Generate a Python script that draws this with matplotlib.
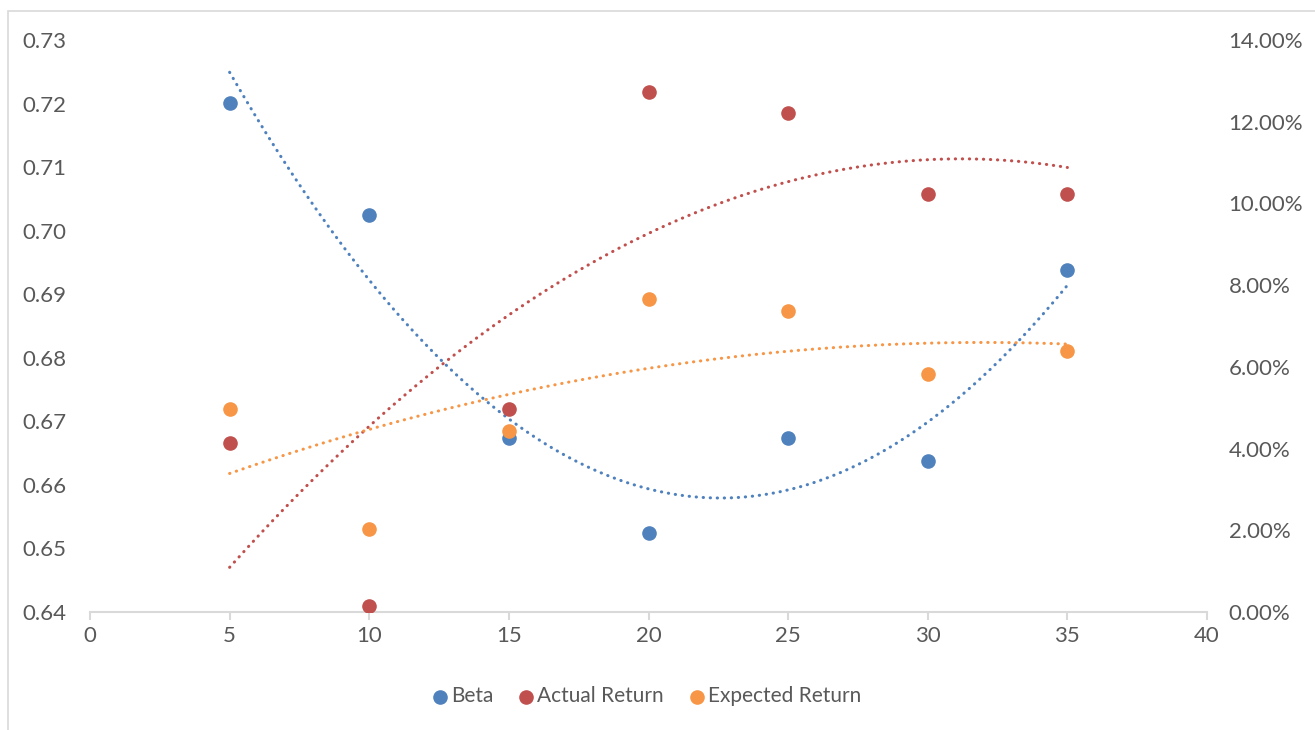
import numpy as np
import matplotlib
matplotlib.use("Agg")
import matplotlib.pyplot as plt
from matplotlib.patches import Rectangle
from matplotlib.ticker import FuncFormatter, MultipleLocator

plt.rcParams['font.family'] = ['Lato', 'DejaVu Sans']

# data
periods = [5, 10, 15, 20, 25, 30, 35]
beta = [0.7201, 0.7025, 0.6674, 0.6525, 0.6673, 0.6638, 0.6938]
actual_return = [0.0414, 0.0015, 0.0497, 0.1273, 0.1221, 0.1023, 0.1023]
expected_return = [0.0497, 0.0203, 0.0443, 0.0766, 0.0737, 0.0582, 0.0639]

c_beta = "#4F81BD"
c_actual = "#C0504D"
c_expected = "#F79646"
grey = "#595959"
axis_grey = "#D9D9D9"

fig = plt.figure(figsize=(13.15, 7.3), dpi=100)
fig.patches.append(Rectangle((8 / 1315, -0.01), 1.02, 1 - 11 / 730 + 0.01,
                             transform=fig.transFigure, fill=False,
                             edgecolor=axis_grey, linewidth=1.2))

ax = fig.add_axes([90 / 1315, 118 / 730, 1117 / 1315, 572 / 730])
ax2 = ax.twinx()


def trend(axis, xs, ys, color):
    coef = np.polyfit(xs, ys, 2)
    xx = np.linspace(min(xs), max(xs), 200)
    axis.plot(xx, np.polyval(coef, xx), color=color, lw=2.2,
              linestyle=(0, (0.1, 2.2)), dash_capstyle='round', zorder=2)


ax.scatter(periods, beta, s=90, color=c_beta, zorder=3, label="Beta")
trend(ax, periods, beta, c_beta)
ax2.scatter(periods, actual_return, s=90, color=c_actual, zorder=3, label="Actual Return")
ax2.scatter(periods, expected_return, s=90, color=c_expected, zorder=3, label="Expected Return")
trend(ax2, periods, actual_return, c_actual)
trend(ax2, periods, expected_return, c_expected)

ax.set_xlim(0, 40)
ax.set_ylim(0.64, 0.73)
ax2.set_ylim(0, 0.14)
ax.xaxis.set_major_locator(MultipleLocator(5))
ax.yaxis.set_major_locator(MultipleLocator(0.01))
ax2.yaxis.set_major_locator(MultipleLocator(0.02))
ax.yaxis.set_major_formatter(FuncFormatter(lambda v, p: f"{v:.2f}"))
ax2.yaxis.set_major_formatter(FuncFormatter(lambda v, p: f"{v * 100:.2f}%"))

for a in (ax, ax2):
    for s in ("top", "left", "right"):
        a.spines[s].set_visible(False)
    a.spines["bottom"].set_color(axis_grey)
    a.spines["bottom"].set_linewidth(1.5)
ax2.spines["bottom"].set_visible(False)

fs = 16
ax.tick_params(axis="x", colors=axis_grey, length=6, width=1.5, labelcolor=grey,
               labelsize=fs, pad=4)
ax.tick_params(axis="y", length=0, labelcolor=grey, labelsize=fs, pad=17)
ax2.tick_params(axis="y", length=0, labelcolor=grey, labelsize=fs, pad=15.5)

h1, l1 = ax.get_legend_handles_labels()
h2, l2 = ax2.get_legend_handles_labels()
fig.legend(h1 + h2, l1 + l2, loc="center", bbox_to_anchor=(0.4924, 34 / 730), ncol=3,
           frameon=False, fontsize=15, handlelength=0.6, handletextpad=0.23,
           columnspacing=1.3, markerscale=1.0, labelcolor=grey)

fig.savefig("out.png", dpi=100)
